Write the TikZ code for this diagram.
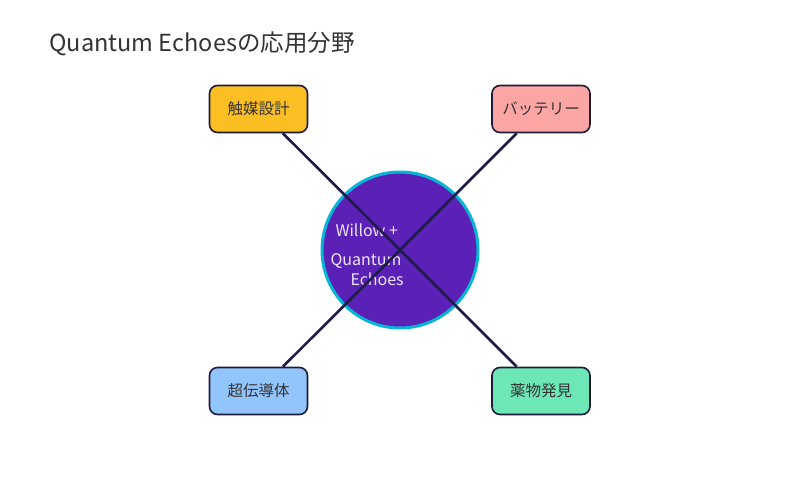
\documentclass[tikz,border=0pt]{standalone}
\usepackage{fontspec}
\setmainfont{Noto Sans CJK JP}
\usepackage{tikz}
\definecolor{hubfill}{HTML}{5B21B6}
\definecolor{hubring}{HTML}{06B6D4}
\definecolor{linkcol}{HTML}{1E1B4B}
\definecolor{boxline}{HTML}{1E1B3A}
\definecolor{inktext}{HTML}{333333}
\definecolor{amberbox}{HTML}{FBBF24}
\definecolor{rosebox}{HTML}{FCA5A5}
\definecolor{skybox}{HTML}{93C5FD}
\definecolor{mintbox}{HTML}{6EE7B7}
\begin{document}
\begin{tikzpicture}[x=1pt, y=-1pt,
        hubnode/.style={circle, draw=hubring, fill=hubfill, line width=3pt, minimum size=156pt, inner sep=0pt},
        fieldbox/.style={rectangle, rounded corners=8pt, draw=boxline, line width=1.6pt, minimum width=98pt, minimum height=47pt, text=inktext, font=\fontsize{15.5}{18}\selectfont},
        link/.style={draw=linkcol, line width=2.6pt}]
        \useasboundingbox (0, 0) rectangle (800, 500);
        \node [anchor=west, text=inktext, font=\fontsize{23.5}{27}\selectfont] at (46, 44) (title) {Quantum Echoesの応用分野};
        \node [hubnode] at (400, 250)     (hub)     {};
        \node [text=white!88!hubfill, align=left, font=\fontsize{16}{20}\selectfont, anchor=west] at (327, 255) (hubtext)
            {\hspace*{5pt}Willow +\\[9pt]Quantum\\\hspace*{20pt}Echoes};
        \node [fieldbox, fill=amberbox] at (258.5, 109) (catalyst) {触媒設計};
        \node [fieldbox, fill=rosebox]  at (541, 109)   (battery)  {バッテリー};
        \node [fieldbox, fill=skybox]   at (258.5, 391) (supercon) {超伝導体};
        \node [fieldbox, fill=mintbox]  at (541, 391)   (drug)     {薬物発見};
        \draw [link] (hub.center) -- (catalyst);
        \draw [link] (hub.center) -- (battery);
        \draw [link] (hub.center) -- (supercon);
        \draw [link] (hub.center) -- (drug);
    \end{tikzpicture}
\end{document}
